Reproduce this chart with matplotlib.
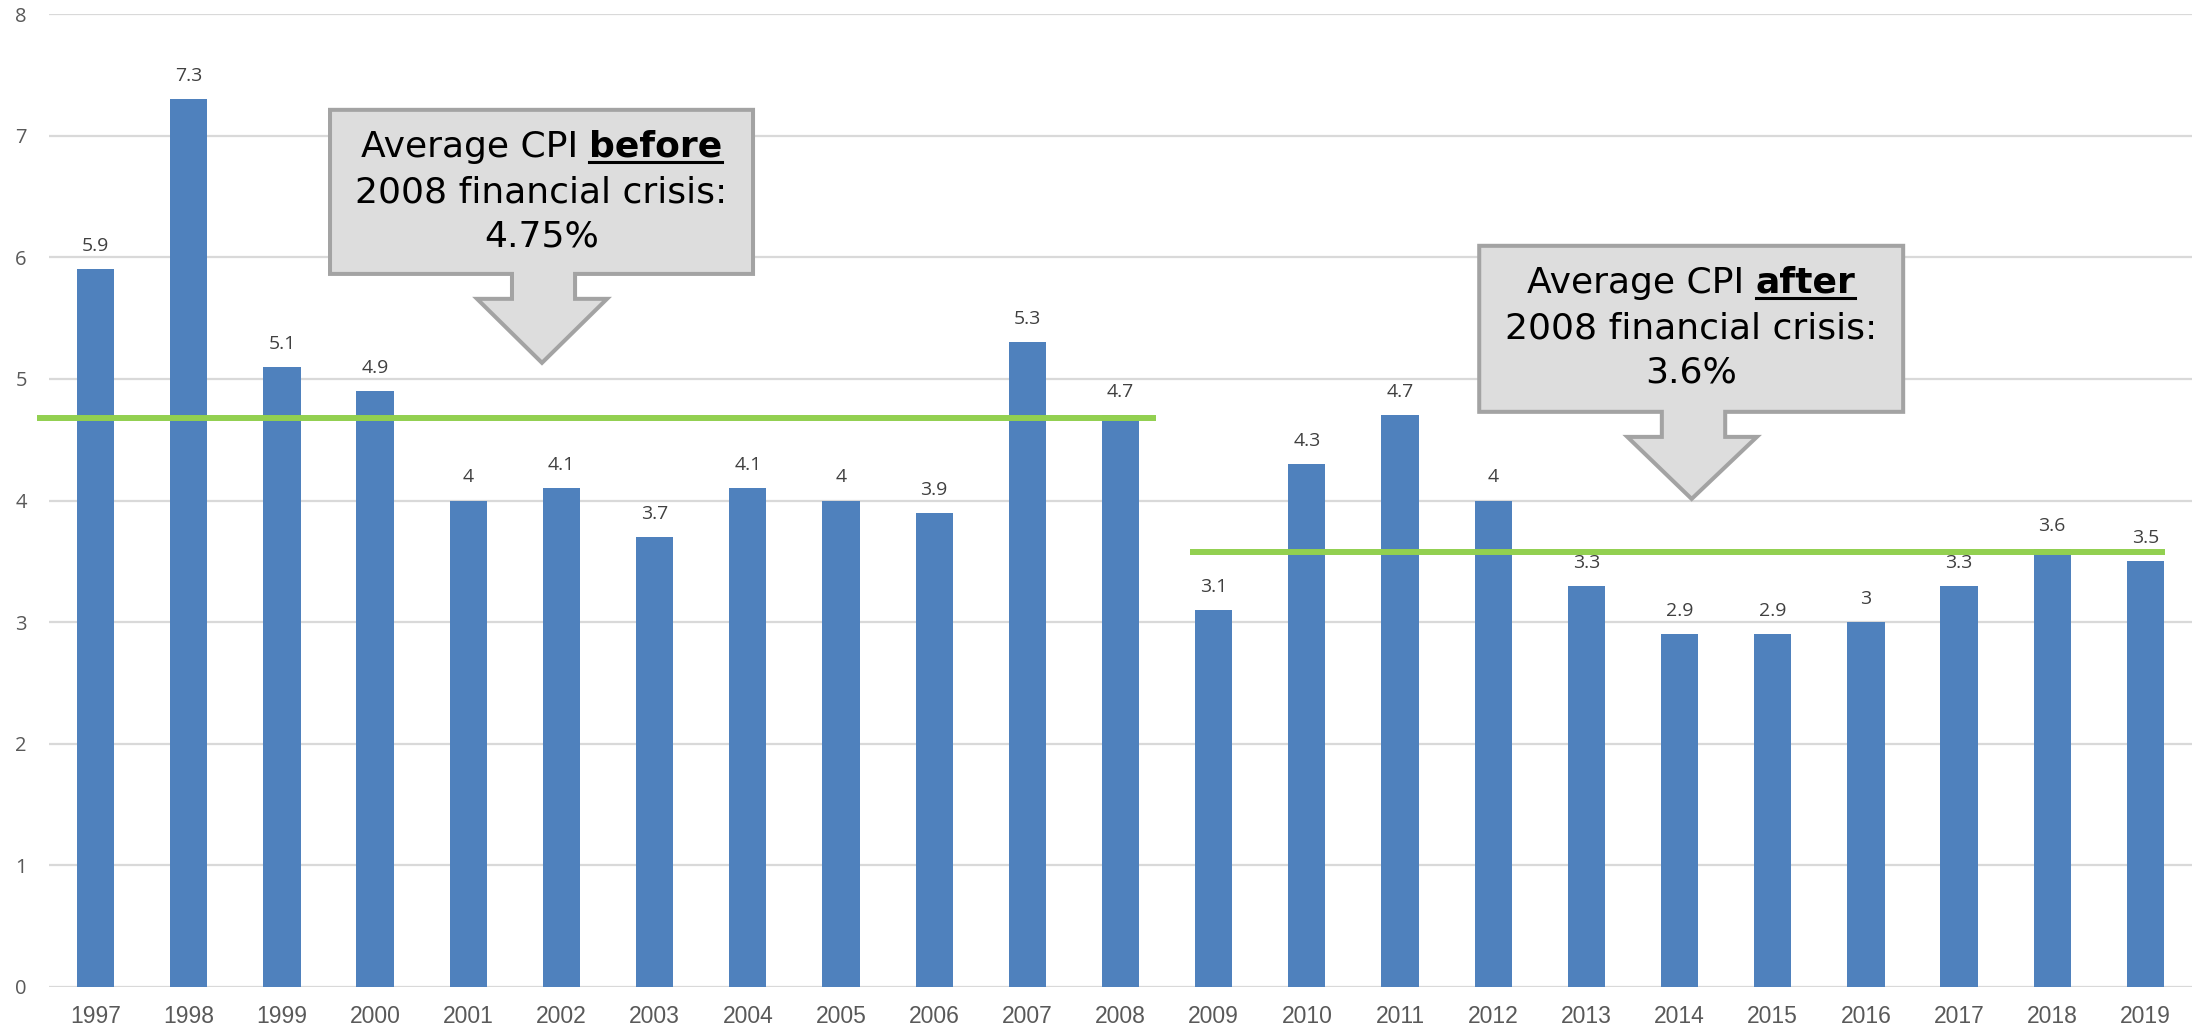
import matplotlib
matplotlib.use("Agg")
import matplotlib.pyplot as plt
from matplotlib.patches import Polygon
from matplotlib.lines import Line2D
from matplotlib.transforms import IdentityTransform

# ---------------- data ----------------
years = ["1997", "1998", "1999", "2000", "2001", "2002", "2003", "2004", "2005",
         "2006", "2007", "2008", "2009", "2010", "2011", "2012", "2013", "2014",
         "2015", "2016", "2017", "2018", "2019"]
cpi = [5.9, 7.3, 5.1, 4.9, 4.0, 4.1, 3.7, 4.1, 4.0, 3.9, 5.3, 4.7,
       3.1, 4.3, 4.7, 4.0, 3.3, 2.9, 2.9, 3.0, 3.3, 3.6, 3.5]
yticks = [0, 1, 2, 3, 4, 5, 6, 7, 8]

# average lines (level as drawn, x-extent in category units)
avg_before_level = 4.68
avg_before_span = [-0.63, 11.38]
avg_after_level = 3.58
avg_after_span = [11.75, 22.21]

before_text = ("Average CPI ", "before", "2008 financial crisis:", "4.75%")
after_text = ("Average CPI ", "after", "2008 financial crisis:", "3.6%")

# ---------------- styles ----------------
BAR = "#4f81bd"
GREEN = "#92d050"
GRID = "#d9d9d9"
TICK = "#595959"
LABEL = "#404040"
BOX_FILL = "#dddddd"
BOX_EDGE = "#a3a3a3"

W, H, DPI = 2195, 1030, 100
fig = plt.figure(figsize=(W / DPI, H / DPI), dpi=DPI)
ax = fig.add_axes([49 / W, (H - 987) / H, 2143 / W, (987 - 14) / H])

x = list(range(len(years)))
ax.bar(x, cpi, width=0.40, color=BAR, zorder=2)
ax.set_xlim(-0.5, len(years) - 0.5)
ax.set_ylim(0, 8)
ax.set_yticks(yticks)
ax.set_xticks(x)
ax.set_xticklabels(years, fontfamily="Liberation Sans", fontsize=16.5, color=TICK)
ax.set_yticklabels([str(t) for t in yticks], fontfamily="Open Sans", fontsize=14.5, color=TICK)
ax.tick_params(axis="x", length=0, pad=13)
ax.tick_params(axis="y", length=0, pad=16)
ax.yaxis.grid(True, color=GRID, linewidth=1.6, zorder=0)
ax.set_axisbelow(True)
for s in ax.spines.values():
    s.set_visible(False)

for xi, v in zip(x, cpi):
    ax.annotate(f"{v:g}", (xi, v), xytext=(0, 13), textcoords="offset points",
                ha="center", va="baseline", fontfamily="Open Sans", fontsize=14,
                color=LABEL, zorder=3)

ax.plot(avg_before_span, [avg_before_level] * 2, color=GREEN, lw=4.3,
        solid_capstyle="butt", zorder=4, clip_on=False)
ax.plot(avg_after_span, [avg_after_level] * 2, color=GREEN, lw=4.3,
        solid_capstyle="butt", zorder=4, clip_on=False)


# ---------------- callouts ----------------
def callout(left, right, top, bottom, stem_l, stem_r, stem_b, wing_l, wing_r, tip_x, tip_y, texts):
    pts = [(left, top), (right, top), (right, bottom), (stem_r, bottom), (stem_r, stem_b),
           (wing_r, stem_b), (tip_x, tip_y), (wing_l, stem_b), (stem_l, stem_b),
           (stem_l, bottom), (left, bottom)]
    poly = Polygon(pts, closed=True, facecolor=BOX_FILL, edgecolor=BOX_EDGE,
                   linewidth=2.9, joinstyle="miter", zorder=6, clip_on=False)
    ax.add_patch(poly)
    cx = (left + right) / 2
    fig.canvas.draw()
    r = fig.canvas.get_renderer()
    cxp, topp = ax.transData.transform((cx, top))
    base = [topp - 47, topp - 93, topp - 137]
    fs = 26
    kw = dict(fontfamily="DejaVu Sans", fontsize=fs, color="black", va="baseline",
              transform=IdentityTransform(), zorder=7)
    # measure pieces
    t_norm = fig.text(0, 0, texts[0].strip(), **kw)
    t_bold = fig.text(0, 0, texts[1], fontweight="bold", **{k: v for k, v in kw.items()})
    ta = fig.text(0, 0, "a a", **kw)
    tb = fig.text(0, 0, "aa", **kw)
    w1 = t_norm.get_window_extent(r).width
    w2 = t_bold.get_window_extent(r).width
    wsp = ta.get_window_extent(r).width - tb.get_window_extent(r).width
    ta.remove(); tb.remove()
    total = w1 + wsp + w2
    x0 = cxp - total / 2
    t_norm.set_position((x0, base[0])); t_norm.set_ha("left")
    t_bold.set_position((x0 + w1 + wsp, base[0])); t_bold.set_ha("left")
    ul = Line2D([x0 + w1 + wsp, x0 + w1 + wsp + w2], [base[0] - 5, base[0] - 5],
                transform=IdentityTransform(), color="black", lw=2.2, zorder=7)
    fig.add_artist(ul)
    fig.text(cxp, base[1], texts[2], ha="center", **kw)
    fig.text(cxp, base[2], texts[3], ha="center", **kw)


callout(2.516, 7.056, 7.212, 5.863, 4.469, 5.146, 5.658, 4.094, 5.489, 4.791, 5.132, before_text)
callout(14.85, 19.40, 6.094, 4.729, 16.81, 17.49, 4.523, 16.44, 17.83, 17.13, 4.013, after_text)

fig.savefig("out.png", dpi=DPI)
